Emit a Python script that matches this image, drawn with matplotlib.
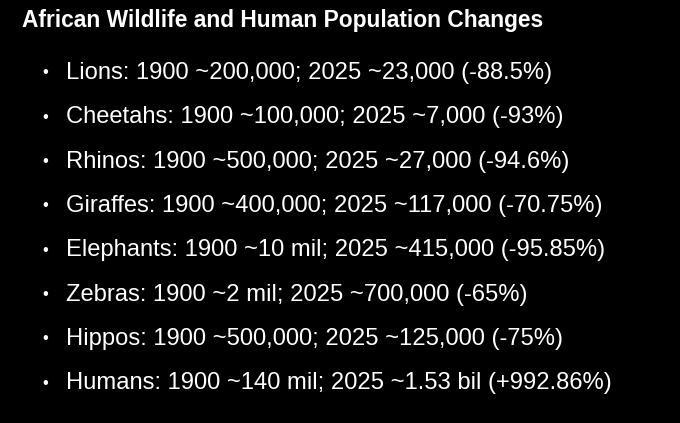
import matplotlib.pyplot as plt

title = "African Wildlife and Human Population Changes"
species = ["Lions", "Cheetahs", "Rhinos", "Giraffes", "Elephants", "Zebras", "Hippos", "Humans"]
pop_1900 = ["~200,000", "~100,000", "~500,000", "~400,000", "~10 mil", "~2 mil", "~500,000", "~140 mil"]
pop_2025 = ["~23,000", "~7,000", "~27,000", "~117,000", "~415,000", "~700,000", "~125,000", "~1.53 bil"]
change = ["-88.5%", "-93%", "-94.6%", "-70.75%", "-95.85%", "-65%", "-75%", "+992.86%"]

W, H = 680, 423
fig = plt.figure(figsize=(6.8, 4.23), dpi=100)
fig.patch.set_facecolor("black")
plt.rcParams['font.family'] = ['Liberation Sans', 'DejaVu Sans']

fig.text(22 / W, 1 - 21 / H, title, color="white", fontsize=16.4,
         fontweight="bold", va="center", ha="left")

for i, name in enumerate(species):
    y = 1 - (73 + i * 44.3) / H
    fig.text(45 / W, y, "•", color="white", fontsize=12, va="center", ha="center")
    line = f"{name}: 1900 {pop_1900[i]}; 2025 {pop_2025[i]} ({change[i]})"
    fig.text(66 / W, y, line, color="white", fontsize=17.1, va="center", ha="left")

fig.savefig("out.png", dpi=100, facecolor="black")
